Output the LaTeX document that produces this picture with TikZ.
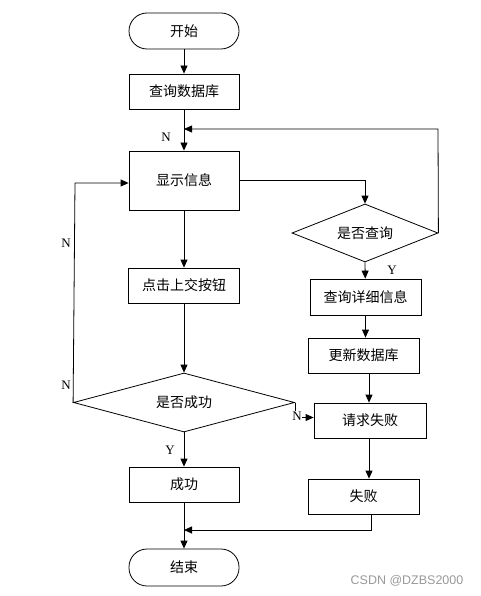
\documentclass[tikz,border=0pt]{standalone}
\usepackage{fontspec}
\setmainfont{Liberation Serif}
\newfontfamily\cjk{Noto Sans CJK SC}
\newfontfamily\wm{Liberation Sans}
\usetikzlibrary{shapes.geometric,arrows.meta}
\begin{document}
\begin{tikzpicture}[x=1pt,y=1pt,
  line width=0.8pt,
  box/.style={draw,rectangle,inner sep=0pt,font=\cjk\fontsize{14}{16}\selectfont},
  term/.style={box,rounded corners=18pt},
  dia/.style={draw,diamond,inner sep=0pt,aspect=3,font=\cjk\fontsize{14}{16}\selectfont},
  arr/.style={-{Triangle[length=8pt,width=7pt]}},
  lbl/.style={font=\fontsize{13}{15}\selectfont,inner sep=0pt}]
\useasboundingbox (0,0) rectangle (481,-596);
\node[term,minimum width=110pt,minimum height=36pt] (start) at (184,-31) {开始};
\node[box,minimum width=110pt,minimum height=35pt] (q1) at (184,-91.5) {查询数据库};
\node[box,minimum width=110pt,minimum height=59pt] (show) at (184,-180.5) {显示信息};
\node[box,minimum width=111pt,minimum height=35pt] (click) at (184,-285.5) {点击上交按钮};
\node[dia,minimum width=221pt,minimum height=59pt] (d1) at (184,-402.5) {是否成功};
\node[dia,minimum width=146pt,minimum height=58pt] (d2) at (365,-233) {是否查询};
\node[box,minimum width=111pt,minimum height=36pt] (detail) at (365.5,-297) {查询详细信息};
\node[box,minimum width=111pt,minimum height=35pt] (update) at (363.5,-355.5) {更新数据库};
\node[box,minimum width=112pt,minimum height=35pt] (fail1) at (370,-420.5) {请求失败};
\node[box,minimum width=110pt,minimum height=35pt] (success) at (184,-484.5) {成功};
\node[box,minimum width=111pt,minimum height=35pt] (fail2) at (363.5,-496.5) {失败};
\node[term,minimum width=110pt,minimum height=37pt] (end) at (184,-567.5) {结束};
\coordinate (join1) at (184,-129);
\coordinate (join2) at (184,-530);
\coordinate (tr) at (438,-129);
\coordinate (br) at (371,-530);
\coordinate (ll) at (75,-183);
\coordinate (cx) at (369,0);
% main column
\draw[arr] (start) -- (q1);
\draw[arr] (q1) -- (show);
\draw[arr] (show) -- (click);
\draw[arr] (click) -- (d1.north);
\draw[arr] (d1.south) -- (success);
\draw[arr] (success) -- (end);
% right branch
\draw[arr] (show.east) -| (d2.north);
\draw[arr] (d2.east) -- (tr) -- (join1);
\draw[arr] (d2.south) -- (detail);
\draw[arr] (detail.south) -- (detail.south |- update.north);
\draw[arr] (update.south -| cx) -- (fail1.north -| cx);
\draw[arr] (fail1.south -| cx) -- (fail2.north -| cx);
\draw[arr] (fail2.south -| br) -- (br) -- (join2);
% left loop
\draw[arr] (d1.west) -- (ll) -- (ll -| show.west);
% no branch to fail
\draw[arr] (d1.east) |- ([yshift=3pt]fail1.west);
% labels
\node[lbl] (n1) at (166,-137) {N};
\node[lbl] (y1) at (392,-270) {Y};
\node[lbl] (n2) at (66,-243) {N};
\node[lbl] (n3) at (66,-385) {N};
\node[lbl] (y2) at (170,-450) {Y};
\node[lbl,fill=white,inner sep=0.5pt] (n4) at (297,-416) {N};
\node[font=\wm\fontsize{12.5}{14}\selectfont,text=black!40] (wm) at (407,-581) {CSDN @DZBS2000};
\end{tikzpicture}
\end{document}
